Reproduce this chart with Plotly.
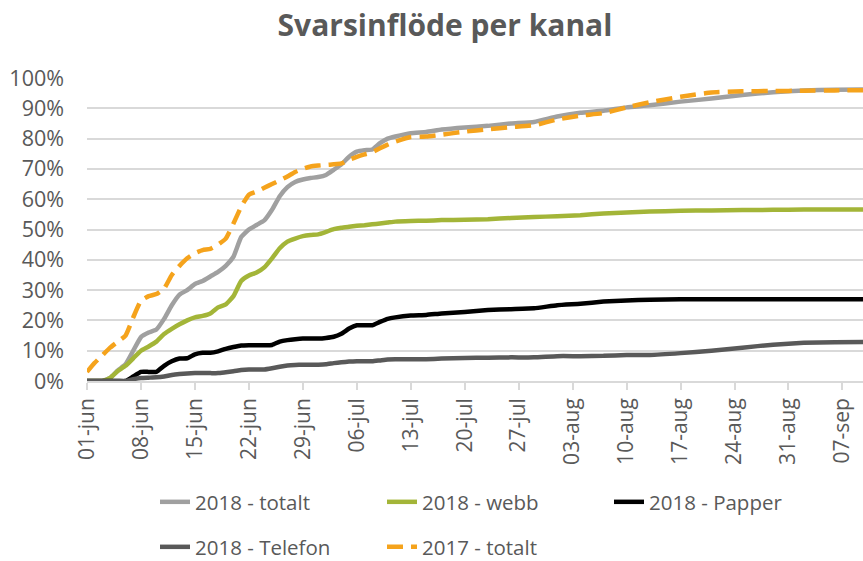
import pandas as pd
import plotly.graph_objects as go

# Day offsets from 01-jun (2018 calendar used for both years)
dagar = [0,1,2,3,4,5,6,7,8,9,10,11,12,13,14,15,16,17,18,19,20,21,22,23,24,25,26,27,28,29,
         30,31,32,33,34,35,36,37,38,39,40,42,44,46,49,52,55,58,61,64,67,70,73,77,81,85,89,93,97,101]

totalt_2018 = [0,0,0,1,3.5,5.5,10,14.5,16,17,20.5,25,28.5,30,32,33,34.5,36,38,41,
               47.5,50,51.5,53,56.5,61,64,65.7,66.5,67,67.3,68,69.7,71.5,74,75.7,76.2,76.4,78.5,80,
               80.7,81.8,82.2,83,83.7,84.2,85,85.5,87.3,88.5,89.2,90.3,91,92.2,93.2,94.4,95.3,95.9,96.1,96.2]

webb_2018 = [0,0,0,1,3.3,5,7.5,10,11.4,13,15.5,17.2,18.7,20,21,21.5,22.3,24.3,25.3,28,
             33,34.8,35.8,37.5,40.5,43.8,46,47,47.8,48.2,48.4,49.2,50.1,50.6,50.9,51.2,51.4,51.7,52,52.3,
             52.6,52.8,52.9,53.1,53.2,53.4,53.8,54.1,54.4,54.7,55.3,55.6,55.9,56.2,56.3,56.4,56.5,56.6,56.6,56.6]

papper_2018 = [0,0,0,0,0,0,1.5,3,3,3,5,6.5,7.4,7.5,8.8,9.3,9.3,9.8,10.6,11.2,
               11.7,11.8,11.8,11.8,11.9,13,13.5,13.8,14,14,14,14.2,14.6,15.6,17.3,18.4,18.4,18.4,19.5,20.5,
               21,21.6,21.8,22.3,22.8,23.4,23.7,24,25,25.5,26.2,26.6,26.8,27,27,27,27,27,27,27]

telefon_2018 = [0,0,0,0,0,0,0.6,1,1.1,1.2,1.5,2,2.3,2.5,2.6,2.6,2.6,2.6,2.9,3.2,
                3.6,3.8,3.8,3.8,4.2,4.7,5.1,5.3,5.4,5.4,5.4,5.5,5.9,6.2,6.4,6.5,6.5,6.5,6.8,7.1,
                7.2,7.2,7.2,7.4,7.6,7.7,7.8,7.8,8.2,8.2,8.3,8.6,8.6,9.2,10,11,12,12.6,12.8,12.9]

totalt_2017 = [3,6,8.5,11,13,15,21,26.5,28,28.7,30.5,35,38,40.5,42.2,43.2,43.6,45,47,52,
               57.5,61.5,62.5,63.8,65,66.2,67.5,69,70,70.8,71.1,71.3,71.5,71.8,73,74,74.8,75.5,76.8,78,
               79,80.5,80.7,81.3,82.3,83.1,83.8,84.4,86.3,87.6,88.4,90.3,92,93.8,95.2,95.6,95.7,95.8,95.9,96]

tick_labels = ["01-jun","08-jun","15-jun","22-jun","29-jun","06-jul","13-jul","20-jul",
               "27-jul","03-aug","10-aug","17-aug","24-aug","31-aug","07-sep"]

start = pd.Timestamp("2018-06-01")
datum = [start + pd.Timedelta(days=d) for d in dagar]
tick_vals = [start + pd.Timedelta(days=7 * i) for i in range(len(tick_labels))]

FONT = "Open Sans, Liberation Sans, sans-serif"
TXT = "#595959"

series = [
    ("2018 - totalt", totalt_2018, "#A0A0A0", "solid", "legend"),
    ("2018 - webb", webb_2018, "#A3B538", "solid", "legend"),
    ("2018 - Papper", papper_2018, "#000000", "solid", "legend"),
    ("2018 - Telefon", telefon_2018, "#595959", "solid", "legend2"),
    ("2017 - totalt", totalt_2017, "#F5A31C", "16px,8px", "legend2"),
]

fig = go.Figure()
for name, vals, col, dash, lg in series:
    fig.add_trace(go.Scatter(
        x=datum, y=vals, name=name, mode="lines",
        line=dict(color=col, width=4.5, dash=dash, shape="spline", smoothing=0.4),
        legend=lg,
    ))

W, H = 863, 561
LEG_X = 155 / W
fig.update_layout(
    width=W, height=H,
    paper_bgcolor="white", plot_bgcolor="white",
    margin=dict(l=87, r=0, t=78, b=180),
    font=dict(family=FONT, color=TXT, size=21),
    title=dict(text="<b>Svarsinflöde per kanal</b>", x=445 / W, xanchor="center",
               xref="container", y=1 - 25 / H, yanchor="middle", yref="container",
               font=dict(size=30, color=TXT, family=FONT)),
    showlegend=True,
    legend=dict(orientation="h", xref="container", yref="container",
                x=LEG_X, y=1 - 502 / H, xanchor="left", yanchor="middle",
                entrywidth=182, font=dict(size=20.5, color=TXT, family=FONT),
                bgcolor="rgba(0,0,0,0)"),
    legend2=dict(orientation="h", xref="container", yref="container",
                 x=LEG_X, y=1 - 547 / H, xanchor="left", yanchor="middle",
                 entrywidth=182, font=dict(size=20.5, color=TXT, family=FONT),
                 bgcolor="rgba(0,0,0,0)"),
)

fig.update_xaxes(
    range=[start, start + pd.Timedelta(hours=int(100.7 * 24))],
    tickmode="array", tickvals=tick_vals, ticktext=tick_labels,
    tickangle=-90, ticks="outside", ticklen=7, tickcolor="#D9D9D9", tickwidth=1.5,
    showline=True, linecolor="#D9D9D9", linewidth=1.5,
    showgrid=False, zeroline=False,
    tickfont=dict(size=21, color=TXT, family=FONT),
)
fig.update_yaxes(
    range=[0, 100], dtick=10, ticksuffix="%",
    showgrid=True, gridcolor="#D9D9D9", gridwidth=1.5,
    zeroline=False, showline=False, ticks="",
    ticklabelstandoff=22,
    tickfont=dict(size=21.5, color=TXT, family=FONT),
)

fig.write_html("out.html", config={"displayModeBar": False},
               post_script="document.body.style.margin='0';document.body.style.padding='0';")
